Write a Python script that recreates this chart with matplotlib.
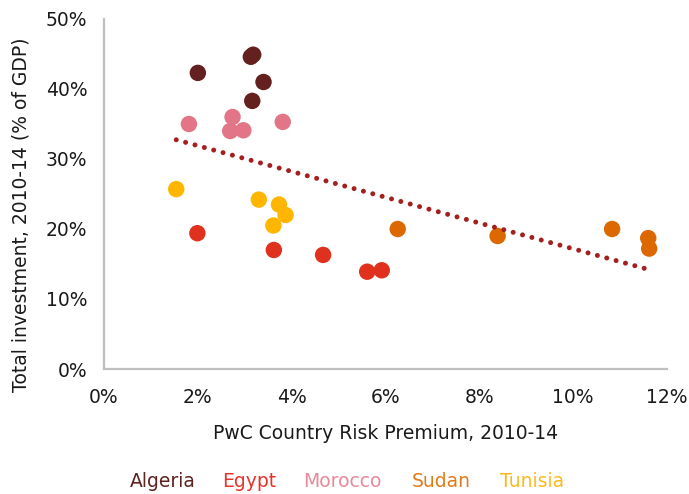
import numpy as np
import matplotlib
matplotlib.use("Agg")
import matplotlib.pyplot as plt
from matplotlib.ticker import FuncFormatter

plt.rcParams['font.family'] = ['DejaVu Sans']

countries = ["Algeria", "Egypt", "Morocco", "Sudan", "Tunisia"]
colors = {"Algeria": "#64201E", "Egypt": "#E0301E", "Morocco": "#E27588",
          "Sudan": "#DC6900", "Tunisia": "#FFB600"}
legend_colors = {"Algeria": "#5E2220", "Egypt": "#E8332A", "Morocco": "#E8899A",
                 "Sudan": "#E07B18", "Tunisia": "#FFB81C"}

# Country risk premium (%) and total investment (% of GDP), 2010-14
risk_algeria = [2.00, 3.13, 3.18, 3.40, 3.16]
inv_algeria = [42.3, 44.6, 44.9, 41.0, 38.3]
risk_egypt = [1.99, 3.62, 4.67, 5.61, 5.92]
inv_egypt = [19.4, 17.0, 16.3, 13.9, 14.1]
risk_morocco = [1.81, 2.74, 2.69, 2.97, 3.81]
inv_morocco = [35.0, 36.0, 34.0, 34.1, 35.3]
risk_sudan = [6.26, 8.39, 10.83, 11.60, 11.62]
inv_sudan = [20.0, 19.0, 20.0, 18.7, 17.2]
risk_tunisia = [1.54, 3.30, 3.73, 3.87, 3.61]
inv_tunisia = [25.7, 24.2, 23.5, 22.0, 20.5]

data = {
    "Algeria": (risk_algeria, inv_algeria),
    "Egypt": (risk_egypt, inv_egypt),
    "Morocco": (risk_morocco, inv_morocco),
    "Sudan": (risk_sudan, inv_sudan),
    "Tunisia": (risk_tunisia, inv_tunisia),
}

x_ticks = [0, 2, 4, 6, 8, 10, 12]
y_ticks = [0, 10, 20, 30, 40, 50]

fig = plt.figure(figsize=(6.89, 4.94), dpi=100)
ax = fig.add_axes([104/689, 1-369/494, (667-104)/689, (369-19)/494])

for c in countries:
    xs, ys = data[c]
    ax.scatter(xs, ys, s=140, color=colors[c], edgecolors='none', zorder=2)

# linear trendline over all points
all_x = np.concatenate([data[c][0] for c in countries])
all_y = np.concatenate([data[c][1] for c in countries])
m, b = np.polyfit(all_x, all_y, 1)
tx = np.array([all_x.min(), all_x.max()])
ax.plot(tx, m*tx + b, color="#A32020", lw=3.6, linestyle=(0, (0.001, 1.94)),
        dash_capstyle='round', zorder=3)

ax.set_xlim(0, 12)
ax.set_ylim(0, 50)
ax.set_xticks(x_ticks)
ax.set_yticks(y_ticks)
ax.xaxis.set_major_formatter(FuncFormatter(lambda v, p: f"{v:.0f}%"))
ax.yaxis.set_major_formatter(FuncFormatter(lambda v, p: f"{v:.0f}%"))
ax.tick_params(axis='both', length=0, labelsize=13.5, colors="#1a1a1a")
ax.tick_params(axis='x', pad=14)
ax.tick_params(axis='y', pad=12)
for s in ['top', 'right']:
    ax.spines[s].set_visible(False)
for s in ['left', 'bottom']:
    ax.spines[s].set_color("#BFBFBF")
    ax.spines[s].set_linewidth(1.6)

fig.text(386/689, 1-433/494, "PwC Country Risk Premium, 2010-14", ha='center', va='center',
         fontsize=13.5, color="#1a1a1a")
fig.text(21/689, 1-215/494, "Total investment, 2010-14 (% of GDP)", ha='center', va='center',
         rotation=90, fontsize=13.5, color="#1a1a1a")

legend_x = [130, 222, 303, 412, 500]
for c, lx in zip(countries, legend_x):
    fig.text(lx/689, 1-481/494, c, ha='left', va='center', fontsize=13.5,
             color=legend_colors[c])

fig.savefig("out.png", dpi=100)
